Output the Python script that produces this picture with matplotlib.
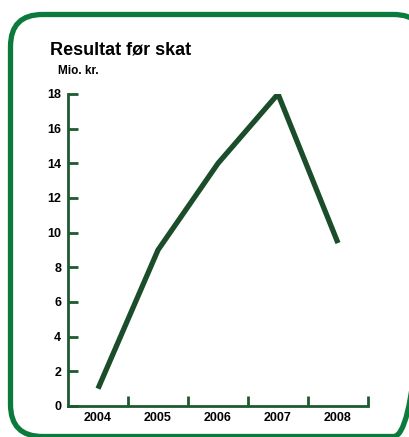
import matplotlib.pyplot as plt
from matplotlib.patches import FancyBboxPatch

plt.rcParams['font.family'] = ['Liberation Sans', 'DejaVu Sans']

# Data
years = ['2004', '2005', '2006', '2007', '2008']
result = [1.0, 9.0, 14.0, 18.0, 9.4]
y_ticks = [0, 2, 4, 6, 8, 10, 12, 14, 16, 18]

line_color = '#1b4d2b'
axis_color = '#1e5a30'
frame_color = '#0c7a3c'

fig = plt.figure(figsize=(4.09, 4.37), dpi=100)

# background axes in pixel units for the rounded green frame
bg = fig.add_axes([0, 0, 1, 1], zorder=0)
bg.set_xlim(0, 409)
bg.set_ylim(437, 0)
bg.axis('off')
frame = FancyBboxPatch((10.5, 14.5), 415, 422,
                       boxstyle='round,pad=0,rounding_size=32',
                       fill=False, edgecolor=frame_color, linewidth=3.8,
                       clip_on=True)
bg.add_patch(frame)

ax = fig.add_axes([68 / 409, 31 / 437, 300 / 409, 312 / 437], zorder=1)
ax.patch.set_alpha(0)
x = list(range(len(years)))
ax.plot(x, result, color=line_color, linewidth=3.8, solid_capstyle='butt')

ax.set_xlim(-0.5, len(years) - 0.5)
ax.set_ylim(0, 18)

for s in ['top', 'right']:
    ax.spines[s].set_visible(False)
for s in ['left', 'bottom']:
    ax.spines[s].set_color(axis_color)
    ax.spines[s].set_linewidth(2)

ax.set_yticks(y_ticks)
ax.set_yticklabels([str(t) for t in y_ticks], fontsize=9, fontweight='bold')
ax.tick_params(axis='y', direction='in', length=7, width=2, color=axis_color, pad=5)

# boundary ticks between years, labels at band centres
ax.set_xticks([i + 0.5 for i in x])
ax.set_xticklabels([])
ax.set_xticks(x, minor=True)
ax.set_xticklabels(years, minor=True, fontsize=9, fontweight='bold')
ax.tick_params(axis='x', which='major', direction='in', length=7, width=2, color=axis_color)
ax.tick_params(axis='x', which='minor', length=0, pad=4)

fig.text(50 / 409, 1 - 50 / 437, 'Resultat før skat', fontsize=13, fontweight='bold', va='center')
fig.text(58 / 409, 1 - 71 / 437, 'Mio. kr.', fontsize=8.5, fontweight='bold', va='center')

fig.savefig('out.png', dpi=100)
